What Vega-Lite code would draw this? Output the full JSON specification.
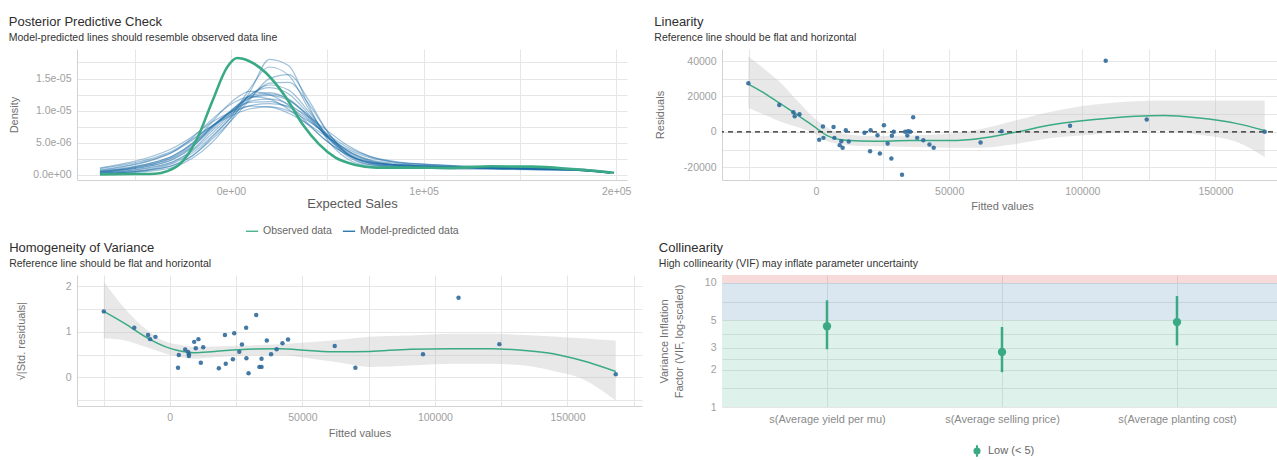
{
  "$schema": "https://vega.github.io/schema/vega-lite/v6.json",
  "padding": {"left": 8, "top": 16, "right": 0, "bottom": 0},
  "background": "white",
  "datasets": {
    "ppc": [
      {"x":-68000,"p01":0.4e-6,"p02":0.2e-6,"p03":0.1e-6,"p04":1.0e-6,"p05":0.6e-6,"p06":0.3e-6,"p07":0.7e-6,"p08":0.2e-6,"p09":0.8e-6,"p10":0.2e-6,"p11":0.5e-6,"p12":0.6e-6,"p13":0.5e-6,"p14":0.3e-6,"p15":1.1e-6,"p16":0.4e-6},
      {"x":-55000,"p01":0.8e-6,"p02":0.4e-6,"p03":0.3e-6,"p04":1.6e-6,"p05":1.1e-6,"p06":0.6e-6,"p07":1.3e-6,"p08":0.4e-6,"p09":1.4e-6,"p10":0.4e-6,"p11":0.9e-6,"p12":1.0e-6,"p13":0.9e-6,"p14":0.6e-6,"p15":1.8e-6,"p16":0.8e-6},
      {"x":-42000,"p01":1.4e-6,"p02":0.8e-6,"p03":0.6e-6,"p04":2.5e-6,"p05":1.8e-6,"p06":1.2e-6,"p07":2.2e-6,"p08":0.9e-6,"p09":2.3e-6,"p10":0.8e-6,"p11":1.6e-6,"p12":1.8e-6,"p13":1.6e-6,"p14":1.1e-6,"p15":2.8e-6,"p16":1.4e-6},
      {"x":-30000,"p01":2.4e-6,"p02":1.5e-6,"p03":1.2e-6,"p04":3.8e-6,"p05":3.0e-6,"p06":2.1e-6,"p07":3.6e-6,"p08":1.8e-6,"p09":3.6e-6,"p10":1.5e-6,"p11":2.7e-6,"p12":3.0e-6,"p13":2.8e-6,"p14":2.0e-6,"p15":4.2e-6,"p16":2.5e-6},
      {"x":-20000,"p01":4.3e-6,"p02":3.0e-6,"p03":2.6e-6,"p04":5.6e-6,"p05":4.9e-6,"p06":3.9e-6,"p07":5.8e-6,"p08":3.4e-6,"p09":5.4e-6,"p10":3.0e-6,"p11":4.6e-6,"p12":5.0e-6,"p13":4.8e-6,"p14":3.7e-6,"p15":6.0e-6,"p16":4.4e-6},
      {"x":-10000,"p01":7.5e-6,"p02":5.8e-6,"p03":5.0e-6,"p04":7.6e-6,"p05":7.6e-6,"p06":6.8e-6,"p07":8.6e-6,"p08":6.0e-6,"p09":7.6e-6,"p10":5.5e-6,"p11":7.3e-6,"p12":8.2e-6,"p13":7.4e-6,"p14":6.4e-6,"p15":8.2e-6,"p16":7.1e-6},
      {"x":0,"p01":10.0e-6,"p02":9.0e-6,"p03":8.5e-6,"p04":9.2e-6,"p05":9.8e-6,"p06":9.6e-6,"p07":11.0e-6,"p08":8.9e-6,"p09":9.5e-6,"p10":8.4e-6,"p11":10.0e-6,"p12":11.3e-6,"p13":9.8e-6,"p14":9.3e-6,"p15":9.8e-6,"p16":9.9e-6},
      {"x":10000,"p01":12.0e-6,"p02":13.5e-6,"p03":13.0e-6,"p04":10.3e-6,"p05":11.3e-6,"p06":12.5e-6,"p07":12.2e-6,"p08":12.0e-6,"p09":10.8e-6,"p10":11.8e-6,"p11":12.3e-6,"p12":13.0e-6,"p13":11.5e-6,"p14":12.4e-6,"p15":10.7e-6,"p16":12.0e-6},
      {"x":20000,"p01":12.6e-6,"p02":16.8e-6,"p03":18.0e-6,"p04":10.6e-6,"p05":11.4e-6,"p06":13.6e-6,"p07":11.8e-6,"p08":14.3e-6,"p09":11.1e-6,"p10":15.0e-6,"p11":12.8e-6,"p12":12.5e-6,"p13":11.8e-6,"p14":14.0e-6,"p15":10.6e-6,"p16":12.4e-6},
      {"x":30000,"p01":11.8e-6,"p02":15.5e-6,"p03":17.0e-6,"p04":10.0e-6,"p05":10.5e-6,"p06":12.6e-6,"p07":10.2e-6,"p08":14.4e-6,"p09":10.7e-6,"p10":15.6e-6,"p11":11.7e-6,"p12":10.8e-6,"p13":11.0e-6,"p14":13.2e-6,"p15":9.6e-6,"p16":11.6e-6},
      {"x":40000,"p01":9.2e-6,"p02":10.5e-6,"p03":11.0e-6,"p04":8.4e-6,"p05":8.6e-6,"p06":9.6e-6,"p07":7.8e-6,"p08":11.2e-6,"p09":9.1e-6,"p10":11.8e-6,"p11":9.1e-6,"p12":8.0e-6,"p13":8.8e-6,"p14":10.0e-6,"p15":7.9e-6,"p16":9.4e-6},
      {"x":50000,"p01":5.8e-6,"p02":6.0e-6,"p03":5.5e-6,"p04":6.3e-6,"p05":6.1e-6,"p06":6.0e-6,"p07":5.2e-6,"p08":6.8e-6,"p09":6.9e-6,"p10":6.8e-6,"p11":6.0e-6,"p12":5.2e-6,"p13":6.0e-6,"p14":6.2e-6,"p15":5.9e-6,"p16":6.4e-6},
      {"x":60000,"p01":3.4e-6,"p02":3.0e-6,"p03":2.6e-6,"p04":4.4e-6,"p05":3.9e-6,"p06":3.3e-6,"p07":3.2e-6,"p08":3.5e-6,"p09":4.7e-6,"p10":3.3e-6,"p11":3.6e-6,"p12":3.2e-6,"p13":3.8e-6,"p14":3.4e-6,"p15":4.1e-6,"p16":3.9e-6},
      {"x":72000,"p01":2.0e-6,"p02":1.6e-6,"p03":1.4e-6,"p04":2.9e-6,"p05":2.4e-6,"p06":1.9e-6,"p07":2.0e-6,"p08":1.8e-6,"p09":2.9e-6,"p10":1.6e-6,"p11":2.1e-6,"p12":2.0e-6,"p13":2.3e-6,"p14":1.8e-6,"p15":2.7e-6,"p16":2.2e-6},
      {"x":85000,"p01":1.6e-6,"p02":1.3e-6,"p03":1.2e-6,"p04":2.1e-6,"p05":1.8e-6,"p06":1.5e-6,"p07":1.6e-6,"p08":1.4e-6,"p09":2.0e-6,"p10":1.3e-6,"p11":1.6e-6,"p12":1.6e-6,"p13":1.5e-6,"p14":1.4e-6,"p15":2.0e-6,"p16":1.6e-6},
      {"x":100000,"p01":1.4e-6,"p02":1.2e-6,"p03":1.1e-6,"p04":1.7e-6,"p05":1.5e-6,"p06":1.3e-6,"p07":1.4e-6,"p08":1.3e-6,"p09":1.6e-6,"p10":1.2e-6,"p11":1.4e-6,"p12":1.4e-6,"p13":1.1e-6,"p14":1.3e-6,"p15":1.7e-6,"p16":1.3e-6},
      {"x":120000,"p01":1.2e-6,"p02":1.1e-6,"p03":1.1e-6,"p04":1.4e-6,"p05":1.3e-6,"p06":1.2e-6,"p07":1.2e-6,"p08":1.2e-6,"p09":1.3e-6,"p10":1.1e-6,"p11":1.2e-6,"p12":1.2e-6,"p13":0.9e-6,"p14":1.2e-6,"p15":1.4e-6,"p16":1.1e-6},
      {"x":140000,"p01":1.1e-6,"p02":1.0e-6,"p03":1.0e-6,"p04":1.2e-6,"p05":1.1e-6,"p06":1.1e-6,"p07":1.0e-6,"p08":1.1e-6,"p09":1.1e-6,"p10":1.1e-6,"p11":1.0e-6,"p12":1.0e-6,"p13":0.9e-6,"p14":1.1e-6,"p15":1.2e-6,"p16":0.9e-6},
      {"x":160000,"p01":0.9e-6,"p02":1.0e-6,"p03":0.9e-6,"p04":1.0e-6,"p05":1.0e-6,"p06":1.0e-6,"p07":0.8e-6,"p08":0.9e-6,"p09":0.9e-6,"p10":1.0e-6,"p11":0.9e-6,"p12":0.9e-6,"p13":1.2e-6,"p14":1.0e-6,"p15":1.0e-6,"p16":0.8e-6},
      {"x":180000,"p01":0.8e-6,"p02":0.8e-6,"p03":0.7e-6,"p04":0.9e-6,"p05":0.8e-6,"p06":0.8e-6,"p07":0.7e-6,"p08":0.8e-6,"p09":0.8e-6,"p10":0.8e-6,"p11":0.8e-6,"p12":0.7e-6,"p13":1.0e-6,"p14":0.8e-6,"p15":0.8e-6,"p16":0.7e-6},
      {"x":197000,"p01":0.4e-6,"p02":0.3e-6,"p03":0.3e-6,"p04":0.5e-6,"p05":0.4e-6,"p06":0.4e-6,"p07":0.3e-6,"p08":0.4e-6,"p09":0.4e-6,"p10":0.3e-6,"p11":0.4e-6,"p12":0.3e-6,"p13":0.4e-6,"p14":0.4e-6,"p15":0.4e-6,"p16":0.3e-6}
    ],
    "observed": [
      {"x":-68000,"density":0.1e-6},{"x":-50000,"density":0.15e-6},{"x":-39400,"density":0.2e-6},
      {"x":-33000,"density":0.6e-6},{"x":-26600,"density":1.66e-6},{"x":-18100,"density":5.3e-6},
      {"x":-9600,"density":11.5e-6},{"x":-2100,"density":16.7e-6},{"x":3200,"density":18.2e-6},
      {"x":9600,"density":17.7e-6},{"x":18100,"density":15.9e-6},{"x":28700,"density":12.0e-6},
      {"x":37200,"density":7.9e-6},{"x":45700,"density":4.8e-6},{"x":54300,"density":2.7e-6},
      {"x":64900,"density":1.56e-6},{"x":75500,"density":1.14e-6},{"x":92600,"density":1.14e-6},
      {"x":113800,"density":1.1e-6},{"x":135100,"density":1.35e-6},{"x":156400,"density":1.3e-6},
      {"x":177700,"density":0.9e-6},{"x":198900,"density":0.36e-6}
    ],
    "lin_points": [
      {"fitted":-25400,"residual":27400},{"fitted":-13800,"residual":15200},{"fitted":-8500,"residual":11100},
      {"fitted":-8000,"residual":8800},{"fitted":-6200,"residual":10000},{"fitted":2600,"residual":3000},
      {"fitted":6600,"residual":2800},{"fitted":1200,"residual":-4500},{"fitted":2800,"residual":-3400},
      {"fitted":6900,"residual":-3400},{"fitted":8900,"residual":-7500},{"fitted":10000,"residual":-9000},
      {"fitted":9500,"residual":-5300},{"fitted":11200,"residual":940},{"fitted":12300,"residual":-5400},
      {"fitted":18200,"residual":-560},{"fitted":20500,"residual":940},{"fitted":20300,"residual":-10900},
      {"fitted":23100,"residual":-1900},{"fitted":24000,"residual":-12200},{"fitted":25500,"residual":3750},
      {"fitted":26900,"residual":-6600},{"fitted":28500,"residual":-2250},{"fitted":28300,"residual":-15000},
      {"fitted":29200,"residual":0},{"fitted":32300,"residual":-24200},{"fitted":33500,"residual":0},
      {"fitted":34600,"residual":375},{"fitted":34300,"residual":-2000},{"fitted":35400,"residual":0},
      {"fitted":36500,"residual":8260},{"fitted":38000,"residual":-3400},{"fitted":40300,"residual":-4700},
      {"fitted":42600,"residual":-7100},{"fitted":44200,"residual":-9000},{"fitted":61800,"residual":-6000},
      {"fitted":69700,"residual":375},{"fitted":95400,"residual":3400},{"fitted":108800,"residual":40200},
      {"fitted":124200,"residual":6950},{"fitted":168500,"residual":0}
    ],
    "lin_smooth": [
      {"fitted":-25400,"fit":27000,"lower":13500,"upper":42600},
      {"fitted":-19000,"fit":21500,"lower":9500,"upper":35000},
      {"fitted":-13800,"fit":16300,"lower":6000,"upper":28500},
      {"fitted":-6200,"fit":8800,"lower":2250,"upper":16300},
      {"fitted":0,"fit":2250,"lower":-1500,"upper":6950},
      {"fitted":4600,"fit":-2440,"lower":-5500,"upper":2000},
      {"fitted":12300,"fit":-4900,"lower":-7500,"upper":-1500},
      {"fitted":21500,"fit":-5300,"lower":-8200,"upper":-2400},
      {"fitted":35400,"fit":-4900,"lower":-8500,"upper":-2000},
      {"fitted":50800,"fit":-4900,"lower":-9000,"upper":-1000},
      {"fitted":61500,"fit":-3750,"lower":-9000,"upper":1500},
      {"fitted":73800,"fit":-560,"lower":-7100,"upper":6000},
      {"fitted":89200,"fit":4100,"lower":-3400,"upper":11600},
      {"fitted":104600,"fit":6950,"lower":-1500,"upper":15400},
      {"fitted":120000,"fit":8800,"lower":375,"upper":17300},
      {"fitted":130800,"fit":9200,"lower":500,"upper":17650},
      {"fitted":143100,"fit":7900,"lower":-1500,"upper":17650},
      {"fitted":158500,"fit":4500,"lower":-6000,"upper":17650},
      {"fitted":168500,"fit":750,"lower":-14300,"upper":17650}
    ],
    "hom_points": [
      {"fitted":-24900,"sqrt_std":1.45},{"fitted":-13400,"sqrt_std":1.09},{"fitted":-8200,"sqrt_std":0.93},
      {"fitted":-7400,"sqrt_std":0.84},{"fitted":-5400,"sqrt_std":0.89},{"fitted":3400,"sqrt_std":0.49},
      {"fitted":3100,"sqrt_std":0.21},{"fitted":5800,"sqrt_std":0.61},{"fitted":6900,"sqrt_std":0.56},
      {"fitted":7200,"sqrt_std":0.51},{"fitted":7200,"sqrt_std":0.47},{"fitted":9200,"sqrt_std":0.78},
      {"fitted":9800,"sqrt_std":0.64},{"fitted":10800,"sqrt_std":0.84},{"fitted":11700,"sqrt_std":0.32},
      {"fitted":12600,"sqrt_std":0.66},{"fitted":18500,"sqrt_std":0.20},{"fitted":20800,"sqrt_std":0.93},
      {"fitted":21100,"sqrt_std":0.30},{"fitted":23800,"sqrt_std":0.40},{"fitted":24300,"sqrt_std":0.97},
      {"fitted":26200,"sqrt_std":0.56},{"fitted":27200,"sqrt_std":0.72},{"fitted":28800,"sqrt_std":1.09},
      {"fitted":28900,"sqrt_std":0.42},{"fitted":29700,"sqrt_std":0.09},{"fitted":32600,"sqrt_std":1.37},
      {"fitted":33800,"sqrt_std":0.23},{"fitted":34600,"sqrt_std":0.23},{"fitted":34600,"sqrt_std":0.41},
      {"fitted":36600,"sqrt_std":0.81},{"fitted":38200,"sqrt_std":0.51},{"fitted":40300,"sqrt_std":0.62},
      {"fitted":42500,"sqrt_std":0.75},{"fitted":44600,"sqrt_std":0.83},{"fitted":62200,"sqrt_std":0.69},
      {"fitted":70000,"sqrt_std":0.21},{"fitted":95500,"sqrt_std":0.51},{"fitted":108900,"sqrt_std":1.75},
      {"fitted":124300,"sqrt_std":0.73},{"fitted":168200,"sqrt_std":0.07}
    ],
    "hom_smooth": [
      {"fitted":-24900,"fit":1.45,"lower":0.86,"upper":2.10},
      {"fitted":-16900,"fit":1.18,"lower":0.81,"upper":1.51},
      {"fitted":-9200,"fit":0.89,"lower":0.67,"upper":1.07},
      {"fitted":-1500,"fit":0.67,"lower":0.52,"upper":0.78},
      {"fitted":3100,"fit":0.59,"lower":0.46,"upper":0.72},
      {"fitted":9200,"fit":0.54,"lower":0.41,"upper":0.67},
      {"fitted":16900,"fit":0.57,"lower":0.44,"upper":0.68},
      {"fitted":29200,"fit":0.62,"lower":0.48,"upper":0.70},
      {"fitted":41500,"fit":0.63,"lower":0.49,"upper":0.73},
      {"fitted":52300,"fit":0.59,"lower":0.42,"upper":0.77},
      {"fitted":63100,"fit":0.56,"lower":0.33,"upper":0.82},
      {"fitted":75400,"fit":0.57,"lower":0.23,"upper":0.89},
      {"fitted":90800,"fit":0.62,"lower":0.26,"upper":0.92},
      {"fitted":106200,"fit":0.63,"lower":0.30,"upper":0.96},
      {"fitted":121500,"fit":0.63,"lower":0.30,"upper":0.96},
      {"fitted":133800,"fit":0.59,"lower":0.26,"upper":0.93},
      {"fitted":144600,"fit":0.52,"lower":0.14,"upper":0.90},
      {"fitted":155400,"fit":0.37,"lower":-0.03,"upper":0.86},
      {"fitted":168200,"fit":0.13,"lower":-0.51,"upper":0.81}
    ],
    "vif": [
      {"term":"s(Average yield per mu)","vif":4.48,"ci_low":2.92,"ci_high":7.25,"level":"Low (< 5)"},
      {"term":"s(Average selling price)","vif":2.78,"ci_low":1.91,"ci_high":4.42,"level":"Low (< 5)"},
      {"term":"s(Average planting cost)","vif":4.84,"ci_low":3.14,"ci_high":7.85,"level":"Low (< 5)"}
    ],
    "bands": [
      {"band":"Low","from":1,"to":5},
      {"band":"Moderate","from":5,"to":10},
      {"band":"High","from":10,"to":11.6}
    ]
  },
  "vconcat": [
    {
      "hconcat": [
        {
          "width": 550, "height": 131,
          "title": {"text": "Posterior Predictive Check", "subtitle": "Model-predicted lines should resemble observed data line"},
          "layer": [
            {
              "data": {"name": "ppc"},
              "transform": [{"fold": ["p01","p02","p03","p04","p05","p06","p07","p08","p09","p10","p11","p12","p13","p14","p15","p16"], "as": ["draw", "density"]}],
              "mark": {"type": "line", "interpolate": "monotone", "strokeWidth": 1.2, "opacity": 0.42},
              "encoding": {
                "x": {"field": "x", "type": "quantitative", "title": "Expected Sales",
                      "scale": {"domain": [-79900, 205600], "nice": false, "zero": false},
                      "axis": {"values": [-50000, 0, 50000, 100000, 150000, 200000], "tickCount": 30, "titleFontSize": 13, "titleColor": "#5a5a5a", "titlePadding": 1,
                               "labelExpr": "datum.value === 0 ? '0e+00' : datum.value === 100000 ? '1e+05' : datum.value === 200000 ? '2e+05' : ''"}},
                "y": {"field": "density", "type": "quantitative", "title": "Density",
                      "scale": {"domain": [-0.78e-6, 19.6e-6], "nice": false, "zero": false},
                      "axis": {"values": [0, 2.5e-6, 5e-6, 7.5e-6, 10e-6, 12.5e-6, 15e-6, 17.5e-6], "tickCount": 30, "titlePadding": 13,
                               "labelExpr": "datum.value === 0 ? '0.0e+00' : datum.value === 5e-6 ? '5.0e-06' : datum.value === 10e-6 ? '1.0e-05' : datum.value === 15e-6 ? '1.5e-05' : ''"}},
                "detail": {"field": "draw", "type": "nominal"},
                "color": {"datum": "Model-predicted data", "type": "nominal",
                          "scale": {"domain": ["Observed data", "Model-predicted data"], "range": ["#3aaa85", "#1b6ca8"]},
                          "legend": {"title": null, "orient": "bottom", "direction": "horizontal", "symbolType": "stroke", "symbolStrokeWidth": 1.3, "symbolOpacity": 1, "symbolSize": 150, "offset": 13, "columnPadding": 8, "labelFontSize": 10.5, "labelColor": "#666666"}}
              }
            },
            {
              "data": {"name": "observed"},
              "mark": {"type": "line", "interpolate": "monotone", "strokeWidth": 2.6},
              "encoding": {
                "x": {"field": "x", "type": "quantitative", "title": "Expected Sales"},
                "y": {"field": "density", "type": "quantitative", "title": "Density"},
                "color": {"datum": "Observed data", "type": "nominal"}
              }
            }
          ]
        },
        {
          "width": 560, "height": 131,
          "title": {"text": "Linearity", "subtitle": "Reference line should be flat and horizontal"},
          "layer": [
            {
              "data": {"name": "lin_smooth"},
              "mark": {"type": "area", "interpolate": "monotone", "color": "#bdbdbd", "opacity": 0.35},
              "encoding": {
                "x": {"field": "fitted", "type": "quantitative", "title": "Fitted values",
                      "scale": {"domain": [-35300, 175000], "nice": false, "zero": false},
                      "axis": {"values": [-25000, 0, 25000, 50000, 75000, 100000, 125000, 150000, 175000], "tickCount": 30, "titlePadding": 4,
                               "labelExpr": "datum.value === 0 ? '0' : datum.value === 50000 ? '50000' : datum.value === 100000 ? '100000' : datum.value === 150000 ? '150000' : ''"}},
                "y": {"field": "upper", "type": "quantitative", "title": "Residuals",
                      "scale": {"domain": [-27200, 46800], "nice": false, "zero": false},
                      "axis": {"values": [-20000, -10000, 0, 10000, 20000, 30000, 40000], "tickCount": 30, "titlePadding": 18,
                               "labelExpr": "datum.value === -20000 ? '-20000' : datum.value === 0 ? '0' : datum.value === 20000 ? '20000' : datum.value === 40000 ? '40000' : ''"}},
                "y2": {"field": "lower"}
              }
            },
            {
              "data": {"name": "lin_smooth"},
              "mark": {"type": "line", "interpolate": "monotone", "color": "#3aaa85", "strokeWidth": 1.5},
              "encoding": {
                "x": {"field": "fitted", "type": "quantitative", "title": "Fitted values"},
                "y": {"field": "fit", "type": "quantitative", "title": "Residuals"}
              }
            },
            {
              "data": {"values": [{}]},
              "mark": {"type": "rule", "strokeDash": [5, 4], "color": "#222222", "strokeWidth": 1.2},
              "encoding": {"y": {"datum": 0, "type": "quantitative", "title": "Residuals"}}
            },
            {
              "data": {"name": "lin_points"},
              "mark": {"type": "circle", "size": 20, "color": "#2f6a9a", "opacity": 0.9},
              "encoding": {
                "x": {"field": "fitted", "type": "quantitative", "title": "Fitted values"},
                "y": {"field": "residual", "type": "quantitative", "title": "Residuals"}
              }
            }
          ]
        }
      ],
      "spacing": 23,
      "resolve": {"scale": {"color": "independent"}, "legend": {"color": "independent"}}
    },
    {
      "hconcat": [
        {
          "width": 565, "height": 131,
          "title": {"text": "Homogeneity of Variance", "subtitle": "Reference line should be flat and horizontal", "dx": -6},
          "layer": [
            {
              "data": {"name": "hom_smooth"},
              "mark": {"type": "area", "interpolate": "monotone", "color": "#bdbdbd", "opacity": 0.35},
              "encoding": {
                "x": {"field": "fitted", "type": "quantitative", "title": "Fitted values",
                      "scale": {"domain": [-35000, 178100], "nice": false, "zero": false},
                      "axis": {"values": [-25000, 0, 25000, 50000, 75000, 100000, 125000, 150000, 175000], "tickCount": 30, "titlePadding": 5,
                               "labelExpr": "datum.value === 0 ? '0' : datum.value === 50000 ? '50000' : datum.value === 100000 ? '100000' : datum.value === 150000 ? '150000' : ''"}},
                "y": {"field": "upper", "type": "quantitative", "title": "√|Std. residuals|",
                      "scale": {"domain": [-0.63, 2.25], "nice": false, "zero": false},
                      "axis": {"values": [-0.5, 0, 0.5, 1, 1.5, 2], "tickCount": 30, "titlePadding": 39,
                               "labelExpr": "datum.value === 0 ? '0' : datum.value === 1 ? '1' : datum.value === 2 ? '2' : ''"}},
                "y2": {"field": "lower"}
              }
            },
            {
              "data": {"name": "hom_smooth"},
              "mark": {"type": "line", "interpolate": "monotone", "color": "#3aaa85", "strokeWidth": 1.5},
              "encoding": {
                "x": {"field": "fitted", "type": "quantitative", "title": "Fitted values"},
                "y": {"field": "fit", "type": "quantitative", "title": "√|Std. residuals|"}
              }
            },
            {
              "data": {"name": "hom_points"},
              "mark": {"type": "circle", "size": 20, "color": "#2f6a9a", "opacity": 0.9},
              "encoding": {
                "x": {"field": "fitted", "type": "quantitative", "title": "Fitted values"},
                "y": {"field": "sqrt_std", "type": "quantitative", "title": "√|Std. residuals|"}
              }
            }
          ]
        },
        {
          "width": 560, "height": 132,
          "title": {"text": "Collinearity", "subtitle": "High collinearity (VIF) may inflate parameter uncertainty"},
          "layer": [
            {
              "data": {"name": "bands"},
              "mark": {"type": "rect", "opacity": 0.16},
              "encoding": {
                "y": {"field": "from", "type": "quantitative", "title": ["Variance Inflation", "Factor (VIF, log-scaled)"],
                      "scale": {"type": "log", "domain": [1, 11.6], "nice": false},
                      "axis": {"values": [1, 1.414, 2, 2.449, 3, 3.873, 5, 7.071, 10], "tickCount": 30, "domain": false, "titlePadding": 20, "titleLineHeight": 14.5,
                               "labelExpr": "indexof([1, 2, 3, 5, 10], datum.value) >= 0 ? datum.value + '' : ''"}},
                "y2": {"field": "to"},
                "fill": {"field": "band", "type": "nominal", "scale": {"domain": ["Low", "Moderate", "High"], "range": ["#3aaa85", "#1b6ca8", "#cd201f"]}, "legend": null}
              }
            },
            {
              "data": {"name": "vif"},
              "mark": {"type": "rule", "strokeWidth": 2.5},
              "encoding": {
                "x": {"field": "term", "type": "nominal", "sort": null, "title": null,
                      "scale": {"type": "point", "padding": 0.6},
                      "axis": {"labelAngle": 0, "labelFontSize": 11, "labelColor": "#8a8a8a", "domain": false, "labelPadding": 6}},
                "y": {"field": "ci_low", "type": "quantitative", "title": ["Variance Inflation", "Factor (VIF, log-scaled)"]},
                "y2": {"field": "ci_high"},
                "color": {"field": "level", "type": "nominal", "scale": {"domain": ["Low (< 5)"], "range": ["#3aaa85"]},
                          "legend": {"title": null, "orient": "bottom", "offset": 20, "labelFontSize": 11, "labelColor": "#666666",
                                     "symbolType": "M0,-1L0,1M-0.45,0A0.45,0.45,0,1,1,0.45,0A0.45,0.45,0,1,1,-0.45,0Z",
                                     "symbolSize": 130, "symbolStrokeWidth": 2, "symbolStrokeColor": "#3aaa85", "symbolFillColor": "#3aaa85"}}
              }
            },
            {
              "data": {"name": "vif"},
              "mark": {"type": "point", "filled": true, "size": 70, "opacity": 1},
              "encoding": {
                "x": {"field": "term", "type": "nominal", "sort": null, "title": null},
                "y": {"field": "vif", "type": "quantitative", "title": ["Variance Inflation", "Factor (VIF, log-scaled)"]},
                "color": {"field": "level", "type": "nominal"}
              }
            }
          ]
        }
      ],
      "spacing": 16,
      "resolve": {"scale": {"color": "independent"}, "legend": {"color": "independent"}}
    }
  ],
  "spacing": 5,
  "resolve": {"scale": {"color": "independent"}, "legend": {"color": "independent"}},
  "config": {
    "font": "Liberation Sans",
    "view": {"stroke": null},
    "locale": {"number": {"decimal": ".", "thousands": ",", "grouping": [3], "currency": ["$", ""], "minus": "-"}},
    "axis": {"grid": true, "gridColor": "#e6e6e6", "gridWidth": 1, "domainColor": "#d2d2d2", "ticks": false, "tickSize": 0,
             "labelColor": "#a0a0a0", "labelFontSize": 10.5, "labelFont": "Liberation Sans",
             "titleColor": "#707070", "titleFontSize": 11, "titleFontWeight": "normal", "titleFont": "Liberation Sans", "labelPadding": 6},
    "title": {"anchor": "start", "frame": "bounds", "fontSize": 13, "fontWeight": "normal", "color": "#2e2e2e",
              "subtitleFontSize": 10.5, "subtitleColor": "#333333", "subtitlePadding": 3.5, "offset": 6, "font": "Liberation Sans", "subtitleFont": "Liberation Sans"},
    "legend": {"layout": {"bottom": {"anchor": "middle"}}, "labelFont": "Liberation Sans"}
  }
}
